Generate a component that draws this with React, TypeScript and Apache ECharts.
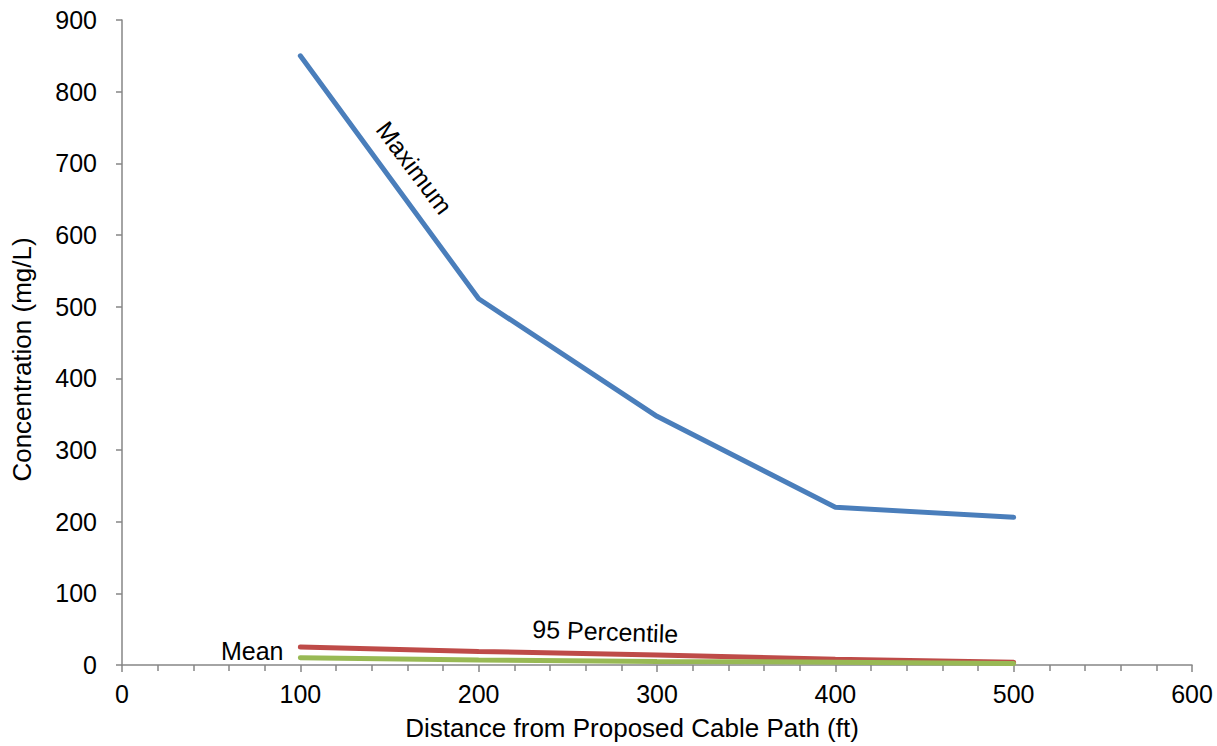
import React, { useEffect, useRef } from "react";
import * as echarts from "echarts";

const distances = [100, 200, 300, 400, 500];
const maximum = [850, 511, 347, 220, 206];
const percentile95 = [25, 19, 14, 8, 4];
const mean = [10, 7, 5, 4, 2];
const xTicks = [0, 600, 100];
const yTicks = [0, 900, 100];

const labelMaximum = { text: "Maximum", x: 164, y: 694, rot: -53 };
const labelP95 = { text: "95 Percentile", x: 271, y: 47, rot: -2 };
const labelMean = { text: "Mean", x: 73, y: 19, rot: 0 };

export default function App() {
  const ref = useRef<HTMLDivElement>(null);
  useEffect(() => {
    document.body.style.margin = "0";
    const chart = echarts.init(ref.current!, null, { renderer: "svg" });
    const axisColor = "#868686";
    const font = "'Liberation Sans', Arial, sans-serif";
    const mk = (name: string, data: number[], color: string) => ({
      name,
      type: "line",
      data: distances.map((d, i) => [d, data[i]]),
      showSymbol: false,
      symbol: "none",
      lineStyle: { color, width: 5, cap: "round" },
      itemStyle: { color },
    });
    chart.setOption({
      animation: false,
      grid: { left: 122, right: 25, top: 20, bottom: 80, containLabel: false },
      xAxis: {
        type: "value",
        min: xTicks[0],
        max: xTicks[1],
        interval: xTicks[2],
        name: "Distance from Proposed Cable Path (ft)",
        nameLocation: "middle",
        nameGap: 50,
        nameTextStyle: { fontSize: 26, color: "#000", fontFamily: font, padding: [0, 50, 0, 0] },
        axisLine: { lineStyle: { color: axisColor, width: 1.5 } },
        axisTick: { show: true, length: 7, inside: false, lineStyle: { color: axisColor, width: 1.5 } },
        minorTick: { show: true, splitNumber: 5, length: 6, lineStyle: { color: axisColor, width: 1.5 } },
        axisLabel: { fontSize: 25, color: "#000", margin: 16, fontFamily: font },
        splitLine: { show: false },
      },
      yAxis: {
        type: "value",
        min: yTicks[0],
        max: yTicks[1],
        interval: yTicks[2],
        name: "Concentration (mg/L)",
        nameLocation: "middle",
        nameGap: 87,
        nameTextStyle: { fontSize: 26, color: "#000", fontFamily: font, padding: [0, 34, 0, 0] },
        axisLine: { show: true, lineStyle: { color: axisColor, width: 1.5 } },
        axisTick: { show: true, length: 6, inside: false, lineStyle: { color: axisColor, width: 1.5 } },
        axisLabel: { fontSize: 25, color: "#000", margin: 25, fontFamily: font },
        splitLine: { show: false },
      },
      series: [
        mk("Maximum", maximum, "#4A7EBB"),
        mk("95 Percentile", percentile95, "#BE4B48"),
        mk("Mean", mean, "#98B954"),
      ],
    });
    const labels = [labelMaximum, labelP95, labelMean].map((l) => {
      const p = chart.convertToPixel({ gridIndex: 0 }, [l.x, l.y]) as number[];
      return {
        type: "text",
        x: p[0],
        y: p[1],
        rotation: (l.rot * Math.PI) / 180,
        style: {
          text: l.text,
          fontSize: 25,
          fontFamily: font,
          fill: "#000",
          align: "center",
          verticalAlign: "middle",
        },
      };
    });
    chart.setOption({ graphic: labels });
    return () => chart.dispose();
  }, []);
  return <div ref={ref} style={{ width: 1217, height: 746 }} />;
}
